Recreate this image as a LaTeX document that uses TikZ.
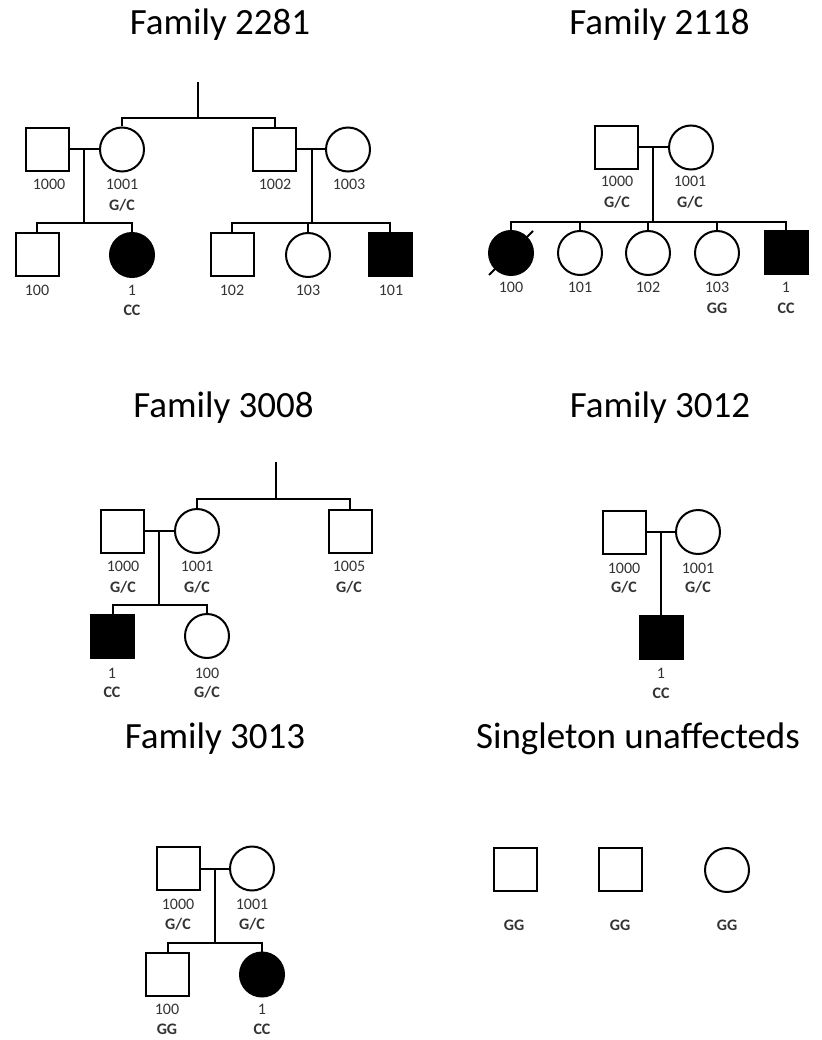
\documentclass[tikz,border=0pt]{standalone}
\usepackage{fontspec}
\setmainfont{Carlito}
\usetikzlibrary{calc}
\begin{document}
\begin{tikzpicture}[x=1pt,y=-1pt, line width=2pt,
  male/.style={draw, rectangle, minimum size=43pt, inner sep=0pt, line width=2pt, fill=white},
  female/.style={draw, circle, minimum size=44pt, inner sep=0pt, line width=2pt, fill=white},
  aff/.style={fill=black},
  conn/.style={draw, line width=2pt},
  title/.style={font=\fontsize{37}{40}\selectfont, anchor=base, inner sep=0pt},
  idl/.style={font=\fontsize{16}{18}\selectfont, anchor=base, inner sep=0pt, text=black!80},
  gtl/.style={font=\fontsize{16}{18}\selectfont\bfseries, anchor=base, inner sep=0pt, text=black!80}]
\useasboundingbox (0,0) rectangle (821,1040);

% ---------------- Family 2281 ----------------
\node[title] (tA) at (220,35) {Family 2281};
\node[male]   (a1000) at (47.5,149.5) {};
\node[female] (a1001) at (122,149.5) {};
\node[male]   (a1002) at (274.5,149.5) {};
\node[female] (a1003) at (348,149.5) {};
\node[male]   (a100) at (37,255) {};
\node[female,aff] (a1) at (132,255) {};
\node[male]   (a102) at (232,255) {};
\node[female] (a103) at (308,255) {};
\node[male,aff] (a101) at (390,255) {};
\coordinate (aT) at (198,82);
\coordinate (aTs) at (198,118);
\coordinate (am1) at (84,149.5);
\coordinate (as1) at (84,223);
\coordinate (am2) at (312,149.5);
\coordinate (as2) at (312,223);
\draw[conn] (aT) -- (aTs);
\draw[conn] (a1001.north) |- (aTs) -| (a1002.north);
\draw[conn] (a1000.east) -- (a1001.west);
\draw[conn] (a1002.east) -- (a1003.west);
\draw[conn] (am1) -- (as1);
\draw[conn] (am2) -- (as2);
\draw[conn] (a100.north) |- (as1) -| (a1.north);
\draw[conn] (a102.north) |- (as2) -| (a101.north);
\draw[conn] (a103.north) -- (a103.north |- as2);
\node[idl] (la1000) at (49,190) {1000};
\node[idl] (la1001) at (122,190) {1001};
\node[gtl] (ga1001) at (122,211) {G/C};
\node[idl] (la1002) at (275,190) {1002};
\node[idl] (la1003) at (349,190) {1003};
\node[idl] (la100) at (37,295) {100};
\node[idl] (la1) at (132,295) {1};
\node[gtl] (ga1) at (132,315) {CC};
\node[idl] (la102) at (232,295) {102};
\node[idl] (la103) at (308,295) {103};
\node[idl] (la101) at (391,295) {101};

% ---------------- Family 2118 ----------------
\node[title] (tB) at (659.5,35) {Family 2118};
\node[male]   (b1000) at (616.5,147.5) {};
\node[female] (b1001) at (691,147.5) {};
\node[female,aff] (b100) at (511,253) {};
\node[female] (b101) at (580,253) {};
\node[female] (b102) at (648,253) {};
\node[female] (b103) at (717,253) {};
\node[male,aff] (b1) at (786,253) {};
\coordinate (bm) at (653,147.5);
\coordinate (bs) at (653,222);
\draw[conn] (b1000.east) -- (b1001.west);
\draw[conn] (bm) -- (bs);
\draw[conn] (b100.north) |- (bs) -| (b1.north);
\draw[conn] (b101.north) -- (b101.north |- bs);
\draw[conn] (b102.north) -- (b102.north |- bs);
\draw[conn] (b103.north) -- (b103.north |- bs);
\draw[conn] ($(b100.center)+(-22,22)$) -- ($(b100.center)+(22,-22)$);
\node[idl] (lb1000) at (617,187) {1000};
\node[gtl] (gb1000) at (617,208) {G/C};
\node[idl] (lb1001) at (690,187) {1001};
\node[gtl] (gb1001) at (690,208) {G/C};
\node[idl] (lb100) at (511,293) {100};
\node[idl] (lb101) at (580,293) {101};
\node[idl] (lb102) at (648,293) {102};
\node[idl] (lb103) at (717,293) {103};
\node[gtl] (gb103) at (717,313) {GG};
\node[idl] (lb1) at (786,293) {1};
\node[gtl] (gb1) at (786,313) {CC};

% ---------------- Family 3008 ----------------
\node[title] (tC) at (223.5,417) {Family 3008};
\node[male]   (c1000) at (122.5,531) {};
\node[female] (c1001) at (197,531) {};
\node[male]   (c1005) at (350,531) {};
\node[male,aff] (c1) at (112.5,636) {};
\node[female] (c100) at (207,636) {};
\coordinate (cT) at (276,462);
\coordinate (cTs) at (276,499);
\coordinate (cm) at (159,531);
\coordinate (cs) at (159,605);
\draw[conn] (cT) -- (cTs);
\draw[conn] (c1001.north) |- (cTs) -| (c1005.north);
\draw[conn] (c1000.east) -- (c1001.west);
\draw[conn] (cm) -- (cs);
\draw[conn] (c1.north) |- (cs) -| (c100.north);
\node[idl] (lc1000) at (123,571) {1000};
\node[gtl] (gc1000) at (123,592) {G/C};
\node[idl] (lc1001) at (197,571) {1001};
\node[gtl] (gc1001) at (197,592) {G/C};
\node[idl] (lc1005) at (349,571) {1005};
\node[gtl] (gc1005) at (349,592) {G/C};
\node[idl] (lc1) at (112,678) {1};
\node[gtl] (gc1) at (112,697) {CC};
\node[idl] (lc100) at (207,678) {100};
\node[gtl] (gc100) at (207,697) {G/C};

% ---------------- Family 3012 ----------------
\node[title] (tD) at (660,417) {Family 3012};
\node[male]   (d1000) at (624,532) {};
\node[female] (d1001) at (698,532) {};
\node[male,aff] (d1) at (661,637.5) {};
\coordinate (dm) at (661,532);
\draw[conn] (d1000.east) -- (d1001.west);
\draw[conn] (dm) -- (d1.north);
\node[idl] (ld1000) at (624,573) {1000};
\node[gtl] (gd1000) at (624,592) {G/C};
\node[idl] (ld1001) at (698,573) {1001};
\node[gtl] (gd1001) at (698,592) {G/C};
\node[idl] (ld1) at (661,678) {1};
\node[gtl] (gd1) at (661,698) {CC};

% ---------------- Family 3013 ----------------
\node[title] (tE) at (215,748) {Family 3013};
\node[male]   (e1000) at (178.5,868.5) {};
\node[female] (e1001) at (252,868.5) {};
\node[male]   (e100) at (167.5,974.5) {};
\node[female,aff] (e1) at (262,974.5) {};
\coordinate (em) at (215,868.5);
\coordinate (es) at (215,943);
\draw[conn] (e1000.east) -- (e1001.west);
\draw[conn] (em) -- (es);
\draw[conn] (e100.north) |- (es) -| (e1.north);
\node[idl] (le1000) at (178,909) {1000};
\node[gtl] (ge1000) at (178,929) {G/C};
\node[idl] (le1001) at (252,909) {1001};
\node[gtl] (ge1001) at (252,929) {G/C};
\node[idl] (le100) at (167,1014) {100};
\node[gtl] (ge100) at (167,1034) {GG};
\node[idl] (le1) at (262,1014) {1};
\node[gtl] (ge1) at (262,1034) {CC};

% ---------------- Singletons ----------------
\node[title] (tF) at (638,748) {Singleton unaffecteds};
\node[male]   (s1) at (515.5,869.5) {};
\node[male]   (s2) at (620,869.5) {};
\node[female] (s3) at (727,870) {};
\node[gtl] (gs1) at (514,930) {GG};
\node[gtl] (gs2) at (620,930) {GG};
\node[gtl] (gs3) at (727,930) {GG};
\end{tikzpicture}
\end{document}
